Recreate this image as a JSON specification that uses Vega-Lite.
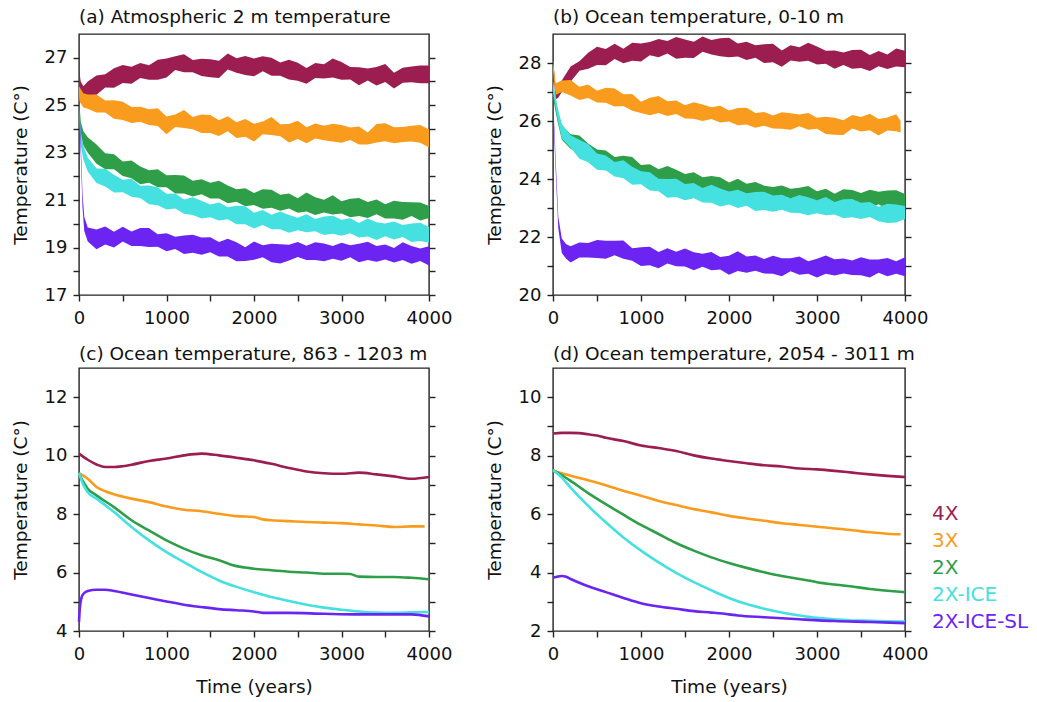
{
"$schema": "https://vega.github.io/schema/vega-lite/v6.json",
"padding": {"left": 10, "top": 6, "right": 2, "bottom": 2},
"background": "white",
"config": {
  "font": "DejaVu Sans",
  "view": {"stroke": "#222222", "strokeWidth": 1.4},
  "axis": {"domain": false, "grid": false, "tickColor": "#222222", "tickWidth": 1.4, "tickSize": 6, "labelFont": "DejaVu Sans", "labelFontSize": 18, "labelColor": "#111111", "titleFont": "DejaVu Sans", "titleFontSize": 18.5, "titleFontWeight": "normal", "titleColor": "#111111"},
  "axisX": {"labelPadding": 8, "titlePadding": 14, "labelFlush": false},
  "axisY": {"labelPadding": 6, "titlePadding": 14},
  "title": {"font": "DejaVu Sans", "fontSize": 18.5, "fontWeight": "normal", "anchor": "start", "frame": "group", "color": "#111111", "baseline": "alphabetic"},
  "legend": {"orient": "none", "legendX": 833, "legendY": 470, "title": null, "symbolSize": 0, "symbolOpacity": 0, "symbolStrokeWidth": 0, "labelOffset": 0, "labelFontSize": 20, "labelFont": "DejaVu Sans", "rowPadding": 7, "padding": 0}
},
"datasets": {
"A": [
{"s":"4X","t":0,"lo":25.9,"hi":26.5},{"s":"4X","t":20,"lo":25.4,"hi":26.0},{"s":"4X","t":50,"lo":25.2,"hi":25.8},{"s":"4X","t":100,"lo":25.4,"hi":26.0},{"s":"4X","t":200,"lo":25.44,"hi":26.25},{"s":"4X","t":300,"lo":25.74,"hi":26.3},{"s":"4X","t":400,"lo":25.73,"hi":26.56},{"s":"4X","t":500,"lo":25.93,"hi":26.69},{"s":"4X","t":600,"lo":25.9,"hi":26.62},{"s":"4X","t":700,"lo":26.15,"hi":26.78},{"s":"4X","t":800,"lo":26.07,"hi":26.68},{"s":"4X","t":900,"lo":26.07,"hi":26.92},{"s":"4X","t":1000,"lo":26.17,"hi":26.97},{"s":"4X","t":1100,"lo":26.48,"hi":27.06},{"s":"4X","t":1200,"lo":26.39,"hi":27.15},{"s":"4X","t":1300,"lo":26.39,"hi":26.9},{"s":"4X","t":1400,"lo":26.23,"hi":26.96},{"s":"4X","t":1500,"lo":26.18,"hi":26.94},{"s":"4X","t":1600,"lo":26.15,"hi":26.87},{"s":"4X","t":1700,"lo":26.5,"hi":27.18},{"s":"4X","t":1800,"lo":26.37,"hi":26.98},{"s":"4X","t":1900,"lo":26.27,"hi":27.07},{"s":"4X","t":2000,"lo":26.22,"hi":26.97},{"s":"4X","t":2100,"lo":26.43,"hi":27.06},{"s":"4X","t":2200,"lo":26.24,"hi":27.0},{"s":"4X","t":2300,"lo":26.24,"hi":26.8},{"s":"4X","t":2400,"lo":26.08,"hi":26.91},{"s":"4X","t":2500,"lo":26.03,"hi":26.79},{"s":"4X","t":2600,"lo":25.9,"hi":26.57},{"s":"4X","t":2700,"lo":26.15,"hi":26.78},{"s":"4X","t":2800,"lo":26.12,"hi":26.73},{"s":"4X","t":2900,"lo":26.17,"hi":26.97},{"s":"4X","t":3000,"lo":26.07,"hi":26.82},{"s":"4X","t":3100,"lo":26.08,"hi":26.61},{"s":"4X","t":3200,"lo":25.84,"hi":26.6},{"s":"4X","t":3300,"lo":26.04,"hi":26.55},{"s":"4X","t":3400,"lo":25.83,"hi":26.61},{"s":"4X","t":3500,"lo":25.98,"hi":26.74},{"s":"4X","t":3600,"lo":25.7,"hi":26.37},{"s":"4X","t":3700,"lo":25.95,"hi":26.58},{"s":"4X","t":3800,"lo":25.97,"hi":26.63},{"s":"4X","t":3900,"lo":25.92,"hi":26.67},{"s":"4X","t":4000,"lo":25.92,"hi":26.67},
{"s":"3X","t":0,"lo":25.2,"hi":25.8},{"s":"3X","t":50,"lo":24.9,"hi":25.5},{"s":"3X","t":100,"lo":24.85,"hi":25.45},{"s":"3X","t":200,"lo":24.69,"hi":25.45},{"s":"3X","t":300,"lo":24.69,"hi":25.2},{"s":"3X","t":400,"lo":24.43,"hi":25.21},{"s":"3X","t":500,"lo":24.38,"hi":25.14},{"s":"3X","t":600,"lo":24.25,"hi":24.92},{"s":"3X","t":700,"lo":24.3,"hi":24.93},{"s":"3X","t":800,"lo":24.17,"hi":24.83},{"s":"3X","t":900,"lo":24.12,"hi":24.87},{"s":"3X","t":1000,"lo":23.77,"hi":24.52},{"s":"3X","t":1100,"lo":24.08,"hi":24.61},{"s":"3X","t":1200,"lo":24.04,"hi":24.8},{"s":"3X","t":1300,"lo":23.99,"hi":24.5},{"s":"3X","t":1400,"lo":23.83,"hi":24.61},{"s":"3X","t":1500,"lo":23.83,"hi":24.59},{"s":"3X","t":1600,"lo":23.7,"hi":24.37},{"s":"3X","t":1700,"lo":23.9,"hi":24.53},{"s":"3X","t":1800,"lo":23.62,"hi":24.28},{"s":"3X","t":1900,"lo":23.67,"hi":24.42},{"s":"3X","t":2000,"lo":23.47,"hi":24.22},{"s":"3X","t":2100,"lo":23.78,"hi":24.31},{"s":"3X","t":2200,"lo":23.74,"hi":24.5},{"s":"3X","t":2300,"lo":23.69,"hi":24.2},{"s":"3X","t":2400,"lo":23.43,"hi":24.21},{"s":"3X","t":2500,"lo":23.58,"hi":24.34},{"s":"3X","t":2600,"lo":23.4,"hi":24.07},{"s":"3X","t":2700,"lo":23.6,"hi":24.23},{"s":"3X","t":2800,"lo":23.52,"hi":24.13},{"s":"3X","t":2900,"lo":23.47,"hi":24.22},{"s":"3X","t":3000,"lo":23.42,"hi":24.17},{"s":"3X","t":3100,"lo":23.53,"hi":24.06},{"s":"3X","t":3200,"lo":23.34,"hi":24.1},{"s":"3X","t":3300,"lo":23.34,"hi":23.85},{"s":"3X","t":3400,"lo":23.43,"hi":24.21},{"s":"3X","t":3500,"lo":23.48,"hi":24.24},{"s":"3X","t":3600,"lo":23.4,"hi":24.07},{"s":"3X","t":3700,"lo":23.45,"hi":24.08},{"s":"3X","t":3800,"lo":23.47,"hi":24.13},{"s":"3X","t":3900,"lo":23.42,"hi":24.17},{"s":"3X","t":4000,"lo":23.22,"hi":23.97},
{"s":"2X","t":0,"lo":24.7,"hi":25.3},{"s":"2X","t":20,"lo":23.7,"hi":24.3},{"s":"2X","t":50,"lo":23.3,"hi":23.9},{"s":"2X","t":100,"lo":23.0,"hi":23.65},{"s":"2X","t":200,"lo":22.53,"hi":23.34},{"s":"2X","t":300,"lo":22.3,"hi":22.97},{"s":"2X","t":400,"lo":22.3,"hi":22.93},{"s":"2X","t":500,"lo":22.02,"hi":22.63},{"s":"2X","t":600,"lo":21.92,"hi":22.67},{"s":"2X","t":700,"lo":21.67,"hi":22.42},{"s":"2X","t":800,"lo":21.73,"hi":22.26},{"s":"2X","t":900,"lo":21.54,"hi":22.3},{"s":"2X","t":1000,"lo":21.54,"hi":22.05},{"s":"2X","t":1100,"lo":21.28,"hi":22.06},{"s":"2X","t":1200,"lo":21.28,"hi":22.04},{"s":"2X","t":1300,"lo":21.15,"hi":21.82},{"s":"2X","t":1400,"lo":21.25,"hi":21.88},{"s":"2X","t":1500,"lo":21.07,"hi":21.73},{"s":"2X","t":1600,"lo":21.07,"hi":21.82},{"s":"2X","t":1700,"lo":20.87,"hi":21.62},{"s":"2X","t":1800,"lo":20.93,"hi":21.46},{"s":"2X","t":1900,"lo":20.74,"hi":21.5},{"s":"2X","t":2000,"lo":20.79,"hi":21.3},{"s":"2X","t":2100,"lo":20.63,"hi":21.46},{"s":"2X","t":2200,"lo":20.68,"hi":21.44},{"s":"2X","t":2300,"lo":20.55,"hi":21.22},{"s":"2X","t":2400,"lo":20.65,"hi":21.28},{"s":"2X","t":2500,"lo":20.47,"hi":21.08},{"s":"2X","t":2600,"lo":20.52,"hi":21.32},{"s":"2X","t":2700,"lo":20.37,"hi":21.12},{"s":"2X","t":2800,"lo":20.48,"hi":21.01},{"s":"2X","t":2900,"lo":20.39,"hi":21.2},{"s":"2X","t":3000,"lo":20.44,"hi":20.95},{"s":"2X","t":3100,"lo":20.28,"hi":21.06},{"s":"2X","t":3200,"lo":20.33,"hi":21.09},{"s":"2X","t":3300,"lo":20.25,"hi":20.92},{"s":"2X","t":3400,"lo":20.4,"hi":21.03},{"s":"2X","t":3500,"lo":20.22,"hi":20.83},{"s":"2X","t":3600,"lo":20.22,"hi":20.97},{"s":"2X","t":3700,"lo":20.17,"hi":20.92},{"s":"2X","t":3800,"lo":20.33,"hi":20.91},{"s":"2X","t":3900,"lo":20.14,"hi":20.9},{"s":"2X","t":4000,"lo":20.24,"hi":20.75},
{"s":"2X-ICE","t":0,"lo":24.5,"hi":25.1},{"s":"2X-ICE","t":20,"lo":23.3,"hi":23.9},{"s":"2X-ICE","t":50,"lo":22.7,"hi":23.3},{"s":"2X-ICE","t":100,"lo":22.2,"hi":22.8},{"s":"2X-ICE","t":200,"lo":21.72,"hi":22.33},{"s":"2X-ICE","t":300,"lo":21.57,"hi":22.32},{"s":"2X-ICE","t":400,"lo":21.32,"hi":22.07},{"s":"2X-ICE","t":500,"lo":21.33,"hi":21.86},{"s":"2X-ICE","t":600,"lo":21.14,"hi":21.9},{"s":"2X-ICE","t":700,"lo":21.09,"hi":21.6},{"s":"2X-ICE","t":800,"lo":20.83,"hi":21.61},{"s":"2X-ICE","t":900,"lo":20.78,"hi":21.54},{"s":"2X-ICE","t":1000,"lo":20.6,"hi":21.27},{"s":"2X-ICE","t":1100,"lo":20.65,"hi":21.28},{"s":"2X-ICE","t":1200,"lo":20.42,"hi":21.03},{"s":"2X-ICE","t":1300,"lo":20.37,"hi":21.12},{"s":"2X-ICE","t":1400,"lo":20.22,"hi":20.97},{"s":"2X-ICE","t":1500,"lo":20.28,"hi":20.81},{"s":"2X-ICE","t":1600,"lo":20.14,"hi":20.9},{"s":"2X-ICE","t":1700,"lo":20.19,"hi":20.7},{"s":"2X-ICE","t":1800,"lo":19.98,"hi":20.76},{"s":"2X-ICE","t":1900,"lo":19.98,"hi":20.74},{"s":"2X-ICE","t":2000,"lo":19.8,"hi":20.47},{"s":"2X-ICE","t":2100,"lo":19.95,"hi":20.58},{"s":"2X-ICE","t":2200,"lo":19.77,"hi":20.38},{"s":"2X-ICE","t":2300,"lo":19.77,"hi":20.52},{"s":"2X-ICE","t":2400,"lo":19.62,"hi":20.37},{"s":"2X-ICE","t":2500,"lo":19.73,"hi":20.26},{"s":"2X-ICE","t":2600,"lo":19.64,"hi":20.4},{"s":"2X-ICE","t":2700,"lo":19.69,"hi":20.2},{"s":"2X-ICE","t":2800,"lo":19.53,"hi":20.31},{"s":"2X-ICE","t":2900,"lo":19.58,"hi":20.34},{"s":"2X-ICE","t":3000,"lo":19.5,"hi":20.17},{"s":"2X-ICE","t":3100,"lo":19.6,"hi":20.23},{"s":"2X-ICE","t":3200,"lo":19.42,"hi":20.03},{"s":"2X-ICE","t":3300,"lo":19.47,"hi":20.22},{"s":"2X-ICE","t":3400,"lo":19.32,"hi":20.07},{"s":"2X-ICE","t":3500,"lo":19.48,"hi":20.01},{"s":"2X-ICE","t":3600,"lo":19.34,"hi":20.1},{"s":"2X-ICE","t":3700,"lo":19.44,"hi":19.95},{"s":"2X-ICE","t":3800,"lo":19.23,"hi":20.01},{"s":"2X-ICE","t":3900,"lo":19.28,"hi":20.04},{"s":"2X-ICE","t":4000,"lo":19.2,"hi":19.87},
{"s":"2X-ICE-SL","t":0,"lo":24.9,"hi":25.5},{"s":"2X-ICE-SL","t":20,"lo":22.9,"hi":23.5},{"s":"2X-ICE-SL","t":40,"lo":20.7,"hi":21.3},{"s":"2X-ICE-SL","t":60,"lo":19.7,"hi":20.3},{"s":"2X-ICE-SL","t":100,"lo":19.25,"hi":19.85},{"s":"2X-ICE-SL","t":200,"lo":18.93,"hi":19.76},{"s":"2X-ICE-SL","t":300,"lo":19.13,"hi":19.89},{"s":"2X-ICE-SL","t":400,"lo":19.0,"hi":19.67},{"s":"2X-ICE-SL","t":500,"lo":19.25,"hi":19.88},{"s":"2X-ICE-SL","t":600,"lo":19.07,"hi":19.68},{"s":"2X-ICE-SL","t":700,"lo":19.07,"hi":19.82},{"s":"2X-ICE-SL","t":800,"lo":19.02,"hi":19.82},{"s":"2X-ICE-SL","t":900,"lo":19.03,"hi":19.56},{"s":"2X-ICE-SL","t":1000,"lo":18.84,"hi":19.6},{"s":"2X-ICE-SL","t":1100,"lo":18.94,"hi":19.45},{"s":"2X-ICE-SL","t":1200,"lo":18.73,"hi":19.51},{"s":"2X-ICE-SL","t":1300,"lo":18.78,"hi":19.54},{"s":"2X-ICE-SL","t":1400,"lo":18.7,"hi":19.42},{"s":"2X-ICE-SL","t":1500,"lo":18.8,"hi":19.43},{"s":"2X-ICE-SL","t":1600,"lo":18.62,"hi":19.23},{"s":"2X-ICE-SL","t":1700,"lo":18.62,"hi":19.37},{"s":"2X-ICE-SL","t":1800,"lo":18.42,"hi":19.22},{"s":"2X-ICE-SL","t":1900,"lo":18.43,"hi":19.01},{"s":"2X-ICE-SL","t":2000,"lo":18.49,"hi":19.25},{"s":"2X-ICE-SL","t":2100,"lo":18.59,"hi":19.1},{"s":"2X-ICE-SL","t":2200,"lo":18.38,"hi":19.16},{"s":"2X-ICE-SL","t":2300,"lo":18.33,"hi":19.14},{"s":"2X-ICE-SL","t":2400,"lo":18.45,"hi":19.12},{"s":"2X-ICE-SL","t":2500,"lo":18.6,"hi":19.23},{"s":"2X-ICE-SL","t":2600,"lo":18.47,"hi":19.08},{"s":"2X-ICE-SL","t":2700,"lo":18.47,"hi":19.22},{"s":"2X-ICE-SL","t":2800,"lo":18.42,"hi":19.17},{"s":"2X-ICE-SL","t":2900,"lo":18.53,"hi":19.06},{"s":"2X-ICE-SL","t":3000,"lo":18.44,"hi":19.2},{"s":"2X-ICE-SL","t":3100,"lo":18.59,"hi":19.1},{"s":"2X-ICE-SL","t":3200,"lo":18.38,"hi":19.16},{"s":"2X-ICE-SL","t":3300,"lo":18.48,"hi":19.24},{"s":"2X-ICE-SL","t":3400,"lo":18.4,"hi":19.07},{"s":"2X-ICE-SL","t":3500,"lo":18.5,"hi":19.13},{"s":"2X-ICE-SL","t":3600,"lo":18.37,"hi":18.98},{"s":"2X-ICE-SL","t":3700,"lo":18.47,"hi":19.22},{"s":"2X-ICE-SL","t":3800,"lo":18.32,"hi":19.07},{"s":"2X-ICE-SL","t":3900,"lo":18.43,"hi":18.96},{"s":"2X-ICE-SL","t":4000,"lo":18.24,"hi":19.05}
],
"B": [
{"s":"4X","t":0,"lo":27.8,"hi":28.2},{"s":"4X","t":30,"lo":26.75,"hi":27.1},{"s":"4X","t":60,"lo":26.8,"hi":27.2},{"s":"4X","t":100,"lo":27.0,"hi":27.4},{"s":"4X","t":200,"lo":27.35,"hi":27.88},{"s":"4X","t":300,"lo":27.73,"hi":28.06},{"s":"4X","t":400,"lo":27.8,"hi":28.35},{"s":"4X","t":500,"lo":27.93,"hi":28.56},{"s":"4X","t":600,"lo":27.92,"hi":28.48},{"s":"4X","t":700,"lo":28.14,"hi":28.66},{"s":"4X","t":800,"lo":27.99,"hi":28.49},{"s":"4X","t":900,"lo":28.08,"hi":28.7},{"s":"4X","t":1000,"lo":28.05,"hi":28.67},{"s":"4X","t":1100,"lo":28.27,"hi":28.72},{"s":"4X","t":1200,"lo":28.2,"hi":28.83},{"s":"4X","t":1300,"lo":28.33,"hi":28.76},{"s":"4X","t":1400,"lo":28.15,"hi":28.9},{"s":"4X","t":1500,"lo":28.18,"hi":28.81},{"s":"4X","t":1600,"lo":28.17,"hi":28.73},{"s":"4X","t":1700,"lo":28.39,"hi":28.91},{"s":"4X","t":1800,"lo":28.29,"hi":28.79},{"s":"4X","t":1900,"lo":28.23,"hi":28.85},{"s":"4X","t":2000,"lo":28.2,"hi":28.87},{"s":"4X","t":2100,"lo":28.22,"hi":28.67},{"s":"4X","t":2200,"lo":28.1,"hi":28.73},{"s":"4X","t":2300,"lo":28.18,"hi":28.61},{"s":"4X","t":2400,"lo":28.0,"hi":28.65},{"s":"4X","t":2500,"lo":28.03,"hi":28.66},{"s":"4X","t":2600,"lo":27.87,"hi":28.43},{"s":"4X","t":2700,"lo":28.09,"hi":28.61},{"s":"4X","t":2800,"lo":28.04,"hi":28.54},{"s":"4X","t":2900,"lo":28.08,"hi":28.7},{"s":"4X","t":3000,"lo":27.95,"hi":28.57},{"s":"4X","t":3100,"lo":27.97,"hi":28.42},{"s":"4X","t":3200,"lo":27.8,"hi":28.43},{"s":"4X","t":3300,"lo":27.93,"hi":28.36},{"s":"4X","t":3400,"lo":27.8,"hi":28.45},{"s":"4X","t":3500,"lo":27.83,"hi":28.46},{"s":"4X","t":3600,"lo":27.72,"hi":28.28},{"s":"4X","t":3700,"lo":27.89,"hi":28.41},{"s":"4X","t":3800,"lo":27.79,"hi":28.29},{"s":"4X","t":3900,"lo":27.88,"hi":28.5},{"s":"4X","t":4000,"lo":27.85,"hi":28.42},
{"s":"3X","t":0,"lo":27.7,"hi":28.1},{"s":"3X","t":30,"lo":26.9,"hi":27.3},{"s":"3X","t":100,"lo":27.0,"hi":27.4},{"s":"3X","t":200,"lo":26.88,"hi":27.41},{"s":"3X","t":300,"lo":26.72,"hi":27.18},{"s":"3X","t":400,"lo":26.79,"hi":27.26},{"s":"3X","t":500,"lo":26.64,"hi":27.04},{"s":"3X","t":600,"lo":26.63,"hi":27.15},{"s":"3X","t":700,"lo":26.5,"hi":27.12},{"s":"3X","t":800,"lo":26.52,"hi":26.92},{"s":"3X","t":900,"lo":26.35,"hi":26.93},{"s":"3X","t":1000,"lo":26.28,"hi":26.66},{"s":"3X","t":1100,"lo":26.2,"hi":26.8},{"s":"3X","t":1200,"lo":26.28,"hi":26.86},{"s":"3X","t":1300,"lo":26.17,"hi":26.68},{"s":"3X","t":1400,"lo":26.24,"hi":26.71},{"s":"3X","t":1500,"lo":26.09,"hi":26.54},{"s":"3X","t":1600,"lo":26.08,"hi":26.65},{"s":"3X","t":1700,"lo":26.0,"hi":26.57},{"s":"3X","t":1800,"lo":26.07,"hi":26.47},{"s":"3X","t":1900,"lo":25.95,"hi":26.53},{"s":"3X","t":2000,"lo":25.98,"hi":26.36},{"s":"3X","t":2100,"lo":25.85,"hi":26.45},{"s":"3X","t":2200,"lo":25.88,"hi":26.46},{"s":"3X","t":2300,"lo":25.77,"hi":26.28},{"s":"3X","t":2400,"lo":25.84,"hi":26.31},{"s":"3X","t":2500,"lo":25.74,"hi":26.19},{"s":"3X","t":2600,"lo":25.73,"hi":26.3},{"s":"3X","t":2700,"lo":25.7,"hi":26.27},{"s":"3X","t":2800,"lo":25.82,"hi":26.22},{"s":"3X","t":2900,"lo":25.7,"hi":26.28},{"s":"3X","t":3000,"lo":25.73,"hi":26.11},{"s":"3X","t":3100,"lo":25.55,"hi":26.15},{"s":"3X","t":3200,"lo":25.53,"hi":26.11},{"s":"3X","t":3300,"lo":25.52,"hi":26.03},{"s":"3X","t":3400,"lo":25.74,"hi":26.21},{"s":"3X","t":3500,"lo":25.64,"hi":26.14},{"s":"3X","t":3600,"lo":25.68,"hi":26.25},{"s":"3X","t":3700,"lo":25.5,"hi":26.07},{"s":"3X","t":3800,"lo":25.67,"hi":26.12},{"s":"3X","t":3900,"lo":25.65,"hi":26.23},{"s":"3X","t":3950,"lo":25.6,"hi":26.0},
{"s":"2X","t":0,"lo":26.8,"hi":27.2},{"s":"2X","t":50,"lo":26.0,"hi":26.4},{"s":"2X","t":100,"lo":25.35,"hi":25.85},{"s":"2X","t":200,"lo":25.04,"hi":25.54},{"s":"2X","t":300,"lo":24.88,"hi":25.5},{"s":"2X","t":400,"lo":24.6,"hi":25.22},{"s":"2X","t":500,"lo":24.57,"hi":25.02},{"s":"2X","t":600,"lo":24.35,"hi":24.98},{"s":"2X","t":700,"lo":24.33,"hi":24.76},{"s":"2X","t":800,"lo":24.15,"hi":24.8},{"s":"2X","t":900,"lo":24.13,"hi":24.76},{"s":"2X","t":1000,"lo":23.92,"hi":24.48},{"s":"2X","t":1100,"lo":23.99,"hi":24.51},{"s":"2X","t":1200,"lo":23.84,"hi":24.34},{"s":"2X","t":1300,"lo":23.83,"hi":24.45},{"s":"2X","t":1400,"lo":23.7,"hi":24.32},{"s":"2X","t":1500,"lo":23.72,"hi":24.17},{"s":"2X","t":1600,"lo":23.6,"hi":24.23},{"s":"2X","t":1700,"lo":23.63,"hi":24.06},{"s":"2X","t":1800,"lo":23.45,"hi":24.1},{"s":"2X","t":1900,"lo":23.43,"hi":24.06},{"s":"2X","t":2000,"lo":23.32,"hi":23.88},{"s":"2X","t":2100,"lo":23.49,"hi":24.01},{"s":"2X","t":2200,"lo":23.34,"hi":23.84},{"s":"2X","t":2300,"lo":23.28,"hi":23.9},{"s":"2X","t":2400,"lo":23.15,"hi":23.77},{"s":"2X","t":2500,"lo":23.27,"hi":23.72},{"s":"2X","t":2600,"lo":23.15,"hi":23.78},{"s":"2X","t":2700,"lo":23.23,"hi":23.66},{"s":"2X","t":2800,"lo":23.05,"hi":23.7},{"s":"2X","t":2900,"lo":23.13,"hi":23.76},{"s":"2X","t":3000,"lo":23.02,"hi":23.58},{"s":"2X","t":3100,"lo":23.14,"hi":23.66},{"s":"2X","t":3200,"lo":22.99,"hi":23.49},{"s":"2X","t":3300,"lo":23.03,"hi":23.65},{"s":"2X","t":3400,"lo":23.0,"hi":23.62},{"s":"2X","t":3500,"lo":23.07,"hi":23.52},{"s":"2X","t":3600,"lo":23.0,"hi":23.63},{"s":"2X","t":3700,"lo":23.13,"hi":23.56},{"s":"2X","t":3800,"lo":22.95,"hi":23.6},{"s":"2X","t":3900,"lo":22.98,"hi":23.61},{"s":"2X","t":4000,"lo":22.92,"hi":23.48},
{"s":"2X-ICE","t":0,"lo":27.0,"hi":27.4},{"s":"2X-ICE","t":50,"lo":26.1,"hi":26.5},{"s":"2X-ICE","t":100,"lo":25.4,"hi":25.9},{"s":"2X-ICE","t":200,"lo":25.08,"hi":25.51},{"s":"2X-ICE","t":300,"lo":24.7,"hi":25.35},{"s":"2X-ICE","t":400,"lo":24.58,"hi":25.21},{"s":"2X-ICE","t":500,"lo":24.32,"hi":24.88},{"s":"2X-ICE","t":600,"lo":24.29,"hi":24.81},{"s":"2X-ICE","t":700,"lo":24.09,"hi":24.59},{"s":"2X-ICE","t":800,"lo":24.03,"hi":24.65},{"s":"2X-ICE","t":900,"lo":23.8,"hi":24.42},{"s":"2X-ICE","t":1000,"lo":23.82,"hi":24.27},{"s":"2X-ICE","t":1100,"lo":23.6,"hi":24.23},{"s":"2X-ICE","t":1200,"lo":23.58,"hi":24.01},{"s":"2X-ICE","t":1300,"lo":23.35,"hi":24.0},{"s":"2X-ICE","t":1400,"lo":23.38,"hi":24.01},{"s":"2X-ICE","t":1500,"lo":23.27,"hi":23.83},{"s":"2X-ICE","t":1600,"lo":23.34,"hi":23.86},{"s":"2X-ICE","t":1700,"lo":23.19,"hi":23.69},{"s":"2X-ICE","t":1800,"lo":23.18,"hi":23.8},{"s":"2X-ICE","t":1900,"lo":23.05,"hi":23.67},{"s":"2X-ICE","t":2000,"lo":23.12,"hi":23.57},{"s":"2X-ICE","t":2100,"lo":23.0,"hi":23.63},{"s":"2X-ICE","t":2200,"lo":23.08,"hi":23.51},{"s":"2X-ICE","t":2300,"lo":22.9,"hi":23.55},{"s":"2X-ICE","t":2400,"lo":22.93,"hi":23.56},{"s":"2X-ICE","t":2500,"lo":22.87,"hi":23.43},{"s":"2X-ICE","t":2600,"lo":22.94,"hi":23.46},{"s":"2X-ICE","t":2700,"lo":22.84,"hi":23.34},{"s":"2X-ICE","t":2800,"lo":22.83,"hi":23.45},{"s":"2X-ICE","t":2900,"lo":22.75,"hi":23.37},{"s":"2X-ICE","t":3000,"lo":22.82,"hi":23.27},{"s":"2X-ICE","t":3100,"lo":22.75,"hi":23.38},{"s":"2X-ICE","t":3200,"lo":22.78,"hi":23.21},{"s":"2X-ICE","t":3300,"lo":22.65,"hi":23.3},{"s":"2X-ICE","t":3400,"lo":22.68,"hi":23.31},{"s":"2X-ICE","t":3500,"lo":22.62,"hi":23.18},{"s":"2X-ICE","t":3600,"lo":22.69,"hi":23.21},{"s":"2X-ICE","t":3700,"lo":22.54,"hi":23.04},{"s":"2X-ICE","t":3800,"lo":22.48,"hi":23.15},{"s":"2X-ICE","t":3900,"lo":22.5,"hi":23.12},{"s":"2X-ICE","t":4000,"lo":22.62,"hi":23.07},
{"s":"2X-ICE-SL","t":0,"lo":26.5,"hi":26.9},{"s":"2X-ICE-SL","t":30,"lo":24.3,"hi":24.7},{"s":"2X-ICE-SL","t":60,"lo":22.3,"hi":22.7},{"s":"2X-ICE-SL","t":100,"lo":21.45,"hi":21.95},{"s":"2X-ICE-SL","t":150,"lo":21.25,"hi":21.75},{"s":"2X-ICE-SL","t":200,"lo":21.12,"hi":21.68},{"s":"2X-ICE-SL","t":300,"lo":21.29,"hi":21.81},{"s":"2X-ICE-SL","t":400,"lo":21.29,"hi":21.79},{"s":"2X-ICE-SL","t":500,"lo":21.28,"hi":21.9},{"s":"2X-ICE-SL","t":600,"lo":21.25,"hi":21.87},{"s":"2X-ICE-SL","t":700,"lo":21.37,"hi":21.87},{"s":"2X-ICE-SL","t":800,"lo":21.25,"hi":21.88},{"s":"2X-ICE-SL","t":900,"lo":21.18,"hi":21.61},{"s":"2X-ICE-SL","t":1000,"lo":21.0,"hi":21.65},{"s":"2X-ICE-SL","t":1100,"lo":21.03,"hi":21.66},{"s":"2X-ICE-SL","t":1200,"lo":20.92,"hi":21.48},{"s":"2X-ICE-SL","t":1300,"lo":21.09,"hi":21.61},{"s":"2X-ICE-SL","t":1400,"lo":20.99,"hi":21.49},{"s":"2X-ICE-SL","t":1500,"lo":20.98,"hi":21.6},{"s":"2X-ICE-SL","t":1600,"lo":20.85,"hi":21.47},{"s":"2X-ICE-SL","t":1700,"lo":20.97,"hi":21.42},{"s":"2X-ICE-SL","t":1800,"lo":20.85,"hi":21.48},{"s":"2X-ICE-SL","t":1900,"lo":20.88,"hi":21.31},{"s":"2X-ICE-SL","t":2000,"lo":20.7,"hi":21.35},{"s":"2X-ICE-SL","t":2100,"lo":20.83,"hi":21.51},{"s":"2X-ICE-SL","t":2200,"lo":20.77,"hi":21.33},{"s":"2X-ICE-SL","t":2300,"lo":20.84,"hi":21.36},{"s":"2X-ICE-SL","t":2400,"lo":20.74,"hi":21.24},{"s":"2X-ICE-SL","t":2500,"lo":20.73,"hi":21.35},{"s":"2X-ICE-SL","t":2600,"lo":20.65,"hi":21.27},{"s":"2X-ICE-SL","t":2700,"lo":20.82,"hi":21.27},{"s":"2X-ICE-SL","t":2800,"lo":20.7,"hi":21.33},{"s":"2X-ICE-SL","t":2900,"lo":20.73,"hi":21.16},{"s":"2X-ICE-SL","t":3000,"lo":20.6,"hi":21.25},{"s":"2X-ICE-SL","t":3100,"lo":20.73,"hi":21.36},{"s":"2X-ICE-SL","t":3200,"lo":20.67,"hi":21.23},{"s":"2X-ICE-SL","t":3300,"lo":20.74,"hi":21.26},{"s":"2X-ICE-SL","t":3400,"lo":20.69,"hi":21.19},{"s":"2X-ICE-SL","t":3500,"lo":20.68,"hi":21.3},{"s":"2X-ICE-SL","t":3600,"lo":20.6,"hi":21.22},{"s":"2X-ICE-SL","t":3700,"lo":20.77,"hi":21.22},{"s":"2X-ICE-SL","t":3800,"lo":20.65,"hi":21.28},{"s":"2X-ICE-SL","t":3900,"lo":20.73,"hi":21.16},{"s":"2X-ICE-SL","t":4000,"lo":20.65,"hi":21.3}
],
"C": [
{"s":"4X","t":0,"v":10.07},{"s":"4X","t":100,"v":9.86},{"s":"4X","t":200,"v":9.7},{"s":"4X","t":300,"v":9.61},{"s":"4X","t":400,"v":9.61},{"s":"4X","t":500,"v":9.64},{"s":"4X","t":600,"v":9.69},{"s":"4X","t":800,"v":9.82},{"s":"4X","t":1000,"v":9.9},{"s":"4X","t":1200,"v":10.01},{"s":"4X","t":1400,"v":10.07},{"s":"4X","t":1600,"v":10.01},{"s":"4X","t":1800,"v":9.93},{"s":"4X","t":2000,"v":9.84},{"s":"4X","t":2200,"v":9.72},{"s":"4X","t":2400,"v":9.58},{"s":"4X","t":2600,"v":9.46},{"s":"4X","t":2800,"v":9.4},{"s":"4X","t":3000,"v":9.38},{"s":"4X","t":3200,"v":9.42},{"s":"4X","t":3400,"v":9.36},{"s":"4X","t":3600,"v":9.29},{"s":"4X","t":3800,"v":9.21},{"s":"4X","t":4000,"v":9.27},
{"s":"3X","t":0,"v":9.4},{"s":"3X","t":100,"v":9.21},{"s":"3X","t":200,"v":8.93},{"s":"3X","t":300,"v":8.78},{"s":"3X","t":400,"v":8.68},{"s":"3X","t":600,"v":8.53},{"s":"3X","t":800,"v":8.41},{"s":"3X","t":1000,"v":8.26},{"s":"3X","t":1200,"v":8.15},{"s":"3X","t":1400,"v":8.1},{"s":"3X","t":1600,"v":8.01},{"s":"3X","t":1800,"v":7.93},{"s":"3X","t":2000,"v":7.9},{"s":"3X","t":2100,"v":7.82},{"s":"3X","t":2200,"v":7.79},{"s":"3X","t":2400,"v":7.76},{"s":"3X","t":2600,"v":7.73},{"s":"3X","t":2800,"v":7.71},{"s":"3X","t":3000,"v":7.69},{"s":"3X","t":3200,"v":7.65},{"s":"3X","t":3400,"v":7.61},{"s":"3X","t":3600,"v":7.56},{"s":"3X","t":3800,"v":7.58},{"s":"3X","t":3950,"v":7.58},
{"s":"2X","t":0,"v":9.38},{"s":"2X","t":50,"v":9.1},{"s":"2X","t":100,"v":8.87},{"s":"2X","t":200,"v":8.64},{"s":"2X","t":400,"v":8.24},{"s":"2X","t":600,"v":7.79},{"s":"2X","t":800,"v":7.44},{"s":"2X","t":1000,"v":7.1},{"s":"2X","t":1200,"v":6.82},{"s":"2X","t":1400,"v":6.59},{"s":"2X","t":1600,"v":6.42},{"s":"2X","t":1800,"v":6.22},{"s":"2X","t":1900,"v":6.17},{"s":"2X","t":2000,"v":6.13},{"s":"2X","t":2200,"v":6.08},{"s":"2X","t":2400,"v":6.03},{"s":"2X","t":2600,"v":6.0},{"s":"2X","t":2800,"v":5.96},{"s":"2X","t":3000,"v":5.96},{"s":"2X","t":3100,"v":5.95},{"s":"2X","t":3200,"v":5.86},{"s":"2X","t":3400,"v":5.85},{"s":"2X","t":3600,"v":5.85},{"s":"2X","t":3800,"v":5.82},{"s":"2X","t":4000,"v":5.77},
{"s":"2X-ICE","t":0,"v":9.4},{"s":"2X-ICE","t":50,"v":9.0},{"s":"2X-ICE","t":100,"v":8.75},{"s":"2X-ICE","t":200,"v":8.53},{"s":"2X-ICE","t":400,"v":8.07},{"s":"2X-ICE","t":600,"v":7.56},{"s":"2X-ICE","t":800,"v":7.1},{"s":"2X-ICE","t":1000,"v":6.7},{"s":"2X-ICE","t":1200,"v":6.36},{"s":"2X-ICE","t":1400,"v":6.02},{"s":"2X-ICE","t":1600,"v":5.73},{"s":"2X-ICE","t":1800,"v":5.51},{"s":"2X-ICE","t":2000,"v":5.33},{"s":"2X-ICE","t":2200,"v":5.16},{"s":"2X-ICE","t":2400,"v":5.03},{"s":"2X-ICE","t":2600,"v":4.9},{"s":"2X-ICE","t":2800,"v":4.8},{"s":"2X-ICE","t":3000,"v":4.73},{"s":"2X-ICE","t":3200,"v":4.67},{"s":"2X-ICE","t":3400,"v":4.63},{"s":"2X-ICE","t":3600,"v":4.62},{"s":"2X-ICE","t":3800,"v":4.64},{"s":"2X-ICE","t":4000,"v":4.65},
{"s":"2X-ICE-SL","t":0,"v":4.31},{"s":"2X-ICE-SL","t":10,"v":4.8},{"s":"2X-ICE-SL","t":30,"v":5.16},{"s":"2X-ICE-SL","t":60,"v":5.3},{"s":"2X-ICE-SL","t":100,"v":5.37},{"s":"2X-ICE-SL","t":200,"v":5.41},{"s":"2X-ICE-SL","t":300,"v":5.41},{"s":"2X-ICE-SL","t":400,"v":5.37},{"s":"2X-ICE-SL","t":600,"v":5.25},{"s":"2X-ICE-SL","t":800,"v":5.13},{"s":"2X-ICE-SL","t":1000,"v":5.01},{"s":"2X-ICE-SL","t":1200,"v":4.9},{"s":"2X-ICE-SL","t":1400,"v":4.82},{"s":"2X-ICE-SL","t":1600,"v":4.75},{"s":"2X-ICE-SL","t":1800,"v":4.71},{"s":"2X-ICE-SL","t":2000,"v":4.67},{"s":"2X-ICE-SL","t":2100,"v":4.62},{"s":"2X-ICE-SL","t":2400,"v":4.62},{"s":"2X-ICE-SL","t":2800,"v":4.59},{"s":"2X-ICE-SL","t":3200,"v":4.57},{"s":"2X-ICE-SL","t":3600,"v":4.57},{"s":"2X-ICE-SL","t":3800,"v":4.57},{"s":"2X-ICE-SL","t":4000,"v":4.5}
],
"D": [
{"s":"4X","t":0,"v":8.76},{"s":"4X","t":100,"v":8.78},{"s":"4X","t":200,"v":8.78},{"s":"4X","t":300,"v":8.77},{"s":"4X","t":400,"v":8.73},{"s":"4X","t":500,"v":8.69},{"s":"4X","t":600,"v":8.61},{"s":"4X","t":800,"v":8.5},{"s":"4X","t":1000,"v":8.35},{"s":"4X","t":1200,"v":8.26},{"s":"4X","t":1400,"v":8.16},{"s":"4X","t":1600,"v":8.01},{"s":"4X","t":1800,"v":7.9},{"s":"4X","t":2000,"v":7.82},{"s":"4X","t":2200,"v":7.74},{"s":"4X","t":2400,"v":7.67},{"s":"4X","t":2600,"v":7.63},{"s":"4X","t":2800,"v":7.56},{"s":"4X","t":3000,"v":7.53},{"s":"4X","t":3200,"v":7.48},{"s":"4X","t":3400,"v":7.42},{"s":"4X","t":3600,"v":7.36},{"s":"4X","t":3800,"v":7.31},{"s":"4X","t":4000,"v":7.27},
{"s":"3X","t":0,"v":7.48},{"s":"3X","t":200,"v":7.31},{"s":"3X","t":400,"v":7.16},{"s":"3X","t":600,"v":6.99},{"s":"3X","t":800,"v":6.8},{"s":"3X","t":1000,"v":6.63},{"s":"3X","t":1200,"v":6.45},{"s":"3X","t":1400,"v":6.31},{"s":"3X","t":1600,"v":6.17},{"s":"3X","t":1800,"v":6.06},{"s":"3X","t":2000,"v":5.94},{"s":"3X","t":2200,"v":5.85},{"s":"3X","t":2400,"v":5.77},{"s":"3X","t":2600,"v":5.69},{"s":"3X","t":2800,"v":5.63},{"s":"3X","t":3000,"v":5.57},{"s":"3X","t":3200,"v":5.51},{"s":"3X","t":3400,"v":5.45},{"s":"3X","t":3600,"v":5.38},{"s":"3X","t":3800,"v":5.33},{"s":"3X","t":3950,"v":5.31},
{"s":"2X","t":0,"v":7.51},{"s":"2X","t":100,"v":7.33},{"s":"2X","t":200,"v":7.14},{"s":"2X","t":400,"v":6.72},{"s":"2X","t":600,"v":6.34},{"s":"2X","t":800,"v":5.98},{"s":"2X","t":1000,"v":5.63},{"s":"2X","t":1200,"v":5.32},{"s":"2X","t":1400,"v":5.01},{"s":"2X","t":1600,"v":4.75},{"s":"2X","t":1800,"v":4.52},{"s":"2X","t":2000,"v":4.33},{"s":"2X","t":2200,"v":4.16},{"s":"2X","t":2400,"v":4.01},{"s":"2X","t":2600,"v":3.88},{"s":"2X","t":2800,"v":3.78},{"s":"2X","t":3000,"v":3.67},{"s":"2X","t":3200,"v":3.59},{"s":"2X","t":3400,"v":3.52},{"s":"2X","t":3600,"v":3.44},{"s":"2X","t":3800,"v":3.38},{"s":"2X","t":4000,"v":3.33},
{"s":"2X-ICE","t":0,"v":7.51},{"s":"2X-ICE","t":100,"v":7.25},{"s":"2X-ICE","t":200,"v":6.91},{"s":"2X-ICE","t":400,"v":6.28},{"s":"2X-ICE","t":600,"v":5.72},{"s":"2X-ICE","t":800,"v":5.2},{"s":"2X-ICE","t":1000,"v":4.75},{"s":"2X-ICE","t":1200,"v":4.35},{"s":"2X-ICE","t":1400,"v":3.99},{"s":"2X-ICE","t":1600,"v":3.67},{"s":"2X-ICE","t":1800,"v":3.39},{"s":"2X-ICE","t":2000,"v":3.13},{"s":"2X-ICE","t":2200,"v":2.92},{"s":"2X-ICE","t":2400,"v":2.76},{"s":"2X-ICE","t":2600,"v":2.63},{"s":"2X-ICE","t":2800,"v":2.53},{"s":"2X-ICE","t":3000,"v":2.45},{"s":"2X-ICE","t":3200,"v":2.4},{"s":"2X-ICE","t":3400,"v":2.36},{"s":"2X-ICE","t":3600,"v":2.35},{"s":"2X-ICE","t":3800,"v":2.33},{"s":"2X-ICE","t":4000,"v":2.32},
{"s":"2X-ICE-SL","t":0,"v":3.82},{"s":"2X-ICE-SL","t":100,"v":3.88},{"s":"2X-ICE-SL","t":150,"v":3.86},{"s":"2X-ICE-SL","t":200,"v":3.78},{"s":"2X-ICE-SL","t":300,"v":3.65},{"s":"2X-ICE-SL","t":400,"v":3.53},{"s":"2X-ICE-SL","t":600,"v":3.33},{"s":"2X-ICE-SL","t":800,"v":3.13},{"s":"2X-ICE-SL","t":1000,"v":2.95},{"s":"2X-ICE-SL","t":1200,"v":2.84},{"s":"2X-ICE-SL","t":1400,"v":2.76},{"s":"2X-ICE-SL","t":1600,"v":2.68},{"s":"2X-ICE-SL","t":1800,"v":2.63},{"s":"2X-ICE-SL","t":2000,"v":2.57},{"s":"2X-ICE-SL","t":2100,"v":2.53},{"s":"2X-ICE-SL","t":2400,"v":2.47},{"s":"2X-ICE-SL","t":2800,"v":2.4},{"s":"2X-ICE-SL","t":3200,"v":2.34},{"s":"2X-ICE-SL","t":3600,"v":2.31},{"s":"2X-ICE-SL","t":4000,"v":2.27}
]
},
"spacing": 15,
"vconcat": [
{"hconcat": [
 {"title": {"text": "(a) Atmospheric 2 m temperature", "offset": 8},
  "width": 350, "height": 261, "data": {"name": "A"},
  "layer": [
   {"mark": {"type": "area", "opacity": 1},
    "encoding": {
     "x": {"field": "t", "type": "quantitative", "scale": {"domain": [0, 4000], "nice": false}, "axis": {"values": [0,500,1000,1500,2000,2500,3000,3500,4000], "labelExpr": "datum.value % 1000 == 0 ? datum.label : ''", "format": "d", "title": null}},
     "y": {"field": "lo", "type": "quantitative", "scale": {"domain": [17, 28], "nice": false, "zero": false}, "axis": {"values": [17,18,19,20,21,22,23,24,25,26,27], "labelExpr": "datum.value % 2 == 1 ? datum.label : ''", "title": "Temperature (C°)"}},
     "y2": {"field": "hi"},
     "color": {"field": "s", "type": "nominal", "scale": {"domain": ["4X","3X","2X","2X-ICE","2X-ICE-SL"], "range": ["#9C1D4F","#F99B1C","#2E9E48","#45E0E0","#6C24F2"]}, "legend": {"encode": {"labels": {"update": {"fill": {"scale": "color", "field": "value"}}}}}}
    }},
   {"mark": {"type": "line", "opacity": 0},
    "encoding": {
     "x": {"field": "t", "type": "quantitative", "scale": {"domain": [0, 4000], "nice": false}},
     "y": {"field": "lo", "type": "quantitative", "scale": {"domain": [17, 28], "nice": false, "zero": false}, "axis": {"orient": "right", "values": [17,18,19,20,21,22,23,24,25,26,27], "labels": false, "title": null}}
    }}
  ],
  "resolve": {"axis": {"y": "independent"}}
 },
 {"title": {"text": "(b) Ocean temperature, 0-10 m", "offset": 8},
  "width": 352, "height": 261, "data": {"name": "B"},
  "layer": [
   {"mark": {"type": "area", "opacity": 1},
    "encoding": {
     "x": {"field": "t", "type": "quantitative", "scale": {"domain": [0, 4000], "nice": false}, "axis": {"values": [0,500,1000,1500,2000,2500,3000,3500,4000], "labelExpr": "datum.value % 1000 == 0 ? datum.label : ''", "format": "d", "title": null}},
     "y": {"field": "lo", "type": "quantitative", "scale": {"domain": [20, 29], "nice": false, "zero": false}, "axis": {"values": [20,21,22,23,24,25,26,27,28], "labelExpr": "datum.value % 2 == 0 ? datum.label : ''", "title": "Temperature (C°)"}},
     "y2": {"field": "hi"},
     "color": {"field": "s", "type": "nominal", "scale": {"domain": ["4X","3X","2X","2X-ICE","2X-ICE-SL"], "range": ["#9C1D4F","#F99B1C","#2E9E48","#45E0E0","#6C24F2"]}, "legend": {"encode": {"labels": {"update": {"fill": {"scale": "color", "field": "value"}}}}}}
    }},
   {"mark": {"type": "line", "opacity": 0},
    "encoding": {
     "x": {"field": "t", "type": "quantitative", "scale": {"domain": [0, 4000], "nice": false}},
     "y": {"field": "lo", "type": "quantitative", "scale": {"domain": [20, 29], "nice": false, "zero": false}, "axis": {"orient": "right", "values": [20,21,22,23,24,25,26,27,28], "labels": false, "title": null}}
    }}
  ],
  "resolve": {"axis": {"y": "independent"}}
 }
], "spacing": 31},
{"hconcat": [
 {"title": {"text": "(c) Ocean temperature, 863 - 1203 m", "offset": 5},
  "width": 350, "height": 263, "data": {"name": "C"},
  "layer": [
   {"mark": {"type": "line", "strokeWidth": 2.6, "interpolate": "monotone"},
    "encoding": {
     "x": {"field": "t", "type": "quantitative", "scale": {"domain": [0, 4000], "nice": false}, "axis": {"values": [0,500,1000,1500,2000,2500,3000,3500,4000], "labelExpr": "datum.value % 1000 == 0 ? datum.label : ''", "format": "d", "title": "Time (years)"}},
     "y": {"field": "v", "type": "quantitative", "scale": {"domain": [4, 13], "nice": false, "zero": false}, "axis": {"values": [4,5,6,7,8,9,10,11,12], "labelExpr": "datum.value % 2 == 0 ? datum.label : ''", "title": "Temperature (C°)"}},
     "color": {"field": "s", "type": "nominal", "scale": {"domain": ["4X","3X","2X","2X-ICE","2X-ICE-SL"], "range": ["#9C1D4F","#F99B1C","#2E9E48","#45E0E0","#6C24F2"]}, "legend": {"encode": {"labels": {"update": {"fill": {"scale": "color", "field": "value"}}}}}}
    }},
   {"mark": {"type": "line", "opacity": 0},
    "encoding": {
     "x": {"field": "t", "type": "quantitative", "scale": {"domain": [0, 4000], "nice": false}},
     "y": {"field": "v", "type": "quantitative", "scale": {"domain": [4, 13], "nice": false, "zero": false}, "axis": {"orient": "right", "values": [4,5,6,7,8,9,10,11,12], "labels": false, "title": null}}
    }}
  ],
  "resolve": {"axis": {"y": "independent"}}
 },
 {"title": {"text": "(d) Ocean temperature, 2054 - 3011 m", "offset": 5},
  "width": 352, "height": 263, "data": {"name": "D"},
  "layer": [
   {"mark": {"type": "line", "strokeWidth": 2.6, "interpolate": "monotone"},
    "encoding": {
     "x": {"field": "t", "type": "quantitative", "scale": {"domain": [0, 4000], "nice": false}, "axis": {"values": [0,500,1000,1500,2000,2500,3000,3500,4000], "labelExpr": "datum.value % 1000 == 0 ? datum.label : ''", "format": "d", "title": "Time (years)"}},
     "y": {"field": "v", "type": "quantitative", "scale": {"domain": [2, 11], "nice": false, "zero": false}, "axis": {"values": [2,3,4,5,6,7,8,9,10], "labelExpr": "datum.value % 2 == 0 ? datum.label : ''", "title": "Temperature (C°)"}},
     "color": {"field": "s", "type": "nominal", "scale": {"domain": ["4X","3X","2X","2X-ICE","2X-ICE-SL"], "range": ["#9C1D4F","#F99B1C","#2E9E48","#45E0E0","#6C24F2"]}, "legend": {"encode": {"labels": {"update": {"fill": {"scale": "color", "field": "value"}}}}}}
    }},
   {"mark": {"type": "line", "opacity": 0},
    "encoding": {
     "x": {"field": "t", "type": "quantitative", "scale": {"domain": [0, 4000], "nice": false}},
     "y": {"field": "v", "type": "quantitative", "scale": {"domain": [2, 11], "nice": false, "zero": false}, "axis": {"orient": "right", "values": [2,3,4,5,6,7,8,9,10], "labels": false, "title": null}}
    }}
  ],
  "resolve": {"axis": {"y": "independent"}}
 }
], "spacing": 31}
]
}
